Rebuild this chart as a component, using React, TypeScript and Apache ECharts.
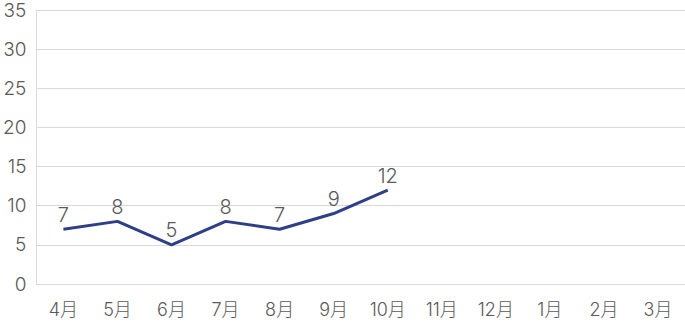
import React, { useEffect, useRef } from "react";
import * as echarts from "echarts";

const categories = ["4月", "5月", "6月", "7月", "8月", "9月", "10月", "11月", "12月", "1月", "2月", "3月"];
const values: (number | null)[] = [7, 8, 5, 8, 7, 9, 12, null, null, null, null, null];
const yMin = 0;
const yMax = 35;
const yInterval = 5;

const FONT = "Inter, 'Noto Sans CJK JP', sans-serif";
const TEXT_COLOR = "#595959";

export default function App() {
  const ref = useRef<HTMLDivElement>(null);
  useEffect(() => {
    document.body.style.margin = "0";
    const chart = echarts.init(ref.current!, null, { renderer: "svg" });
    chart.setOption({
      animation: false,
      grid: { left: 36, right: 0, top: 7, bottom: 39, containLabel: false },
      xAxis: {
        type: "category",
        data: categories,
        boundaryGap: true,
        axisLine: { show: true, lineStyle: { color: "#d9d9d9", width: 1 } },
        axisTick: { show: false },
        axisLabel: {
          color: TEXT_COLOR,
          fontSize: 18,
          fontWeight: 300,
          fontFamily: FONT,
          margin: 16,
        },
      },
      yAxis: {
        type: "value",
        min: yMin,
        max: yMax,
        interval: yInterval,
        axisLine: { show: true, lineStyle: { color: "#d9d9d9", width: 1 } },
        axisTick: { show: false },
        splitLine: { lineStyle: { color: "#d9d9d9", width: 1 } },
        axisLabel: {
          color: TEXT_COLOR,
          fontSize: 19,
          lineHeight: 16,
          fontWeight: 300,
          fontFamily: FONT,
          margin: 10,
          padding: [4, 0, 0, 0],
        },
      },
      series: [
        {
          type: "line",
          data: values,
          showSymbol: true,
          symbol: "circle",
          symbolSize: 1,
          lineStyle: { color: "#2e3f87", width: 3 },
          itemStyle: { color: "rgba(0,0,0,0)" },
          label: {
            show: true,
            position: "top",
            distance: 4,
            color: TEXT_COLOR,
            fontSize: 20,
            fontWeight: 300,
            fontFamily: FONT,
          },
        },
      ],
    });
    return () => chart.dispose();
  }, []);
  return <div ref={ref} style={{ width: 685, height: 323 }} />;
}
